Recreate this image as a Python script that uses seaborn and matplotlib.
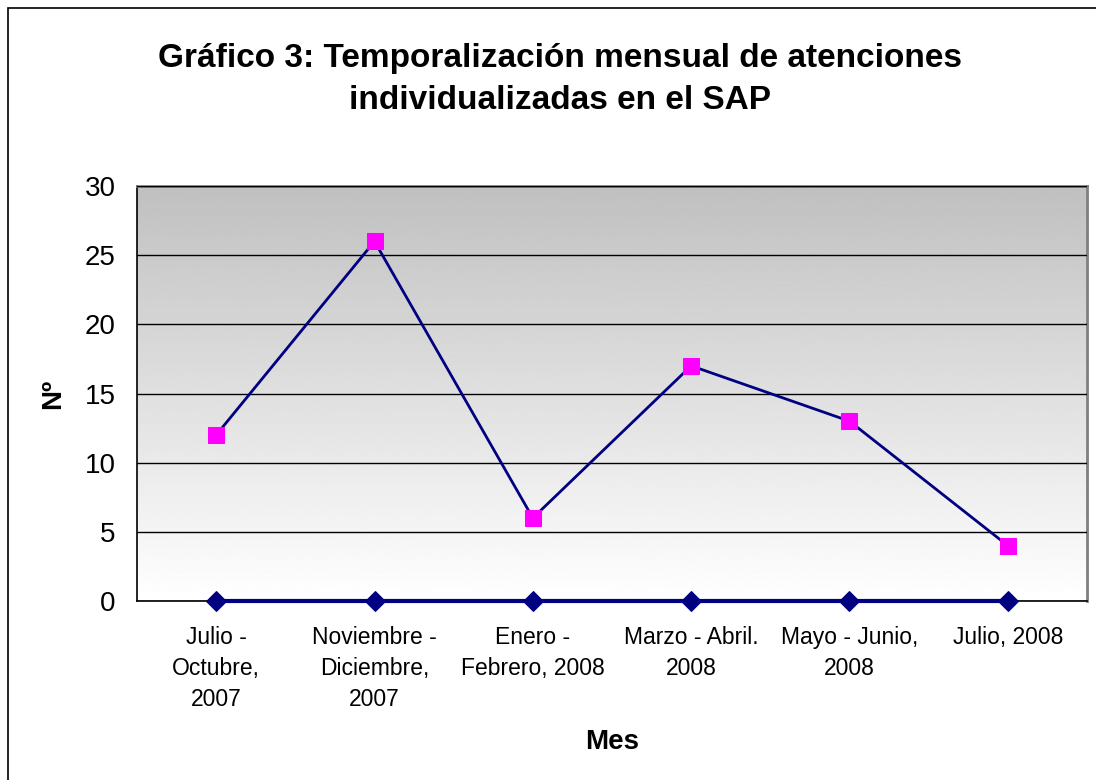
import numpy as np
import pandas as pd
import matplotlib
matplotlib.use("Agg")
import matplotlib.pyplot as plt
import seaborn as sns

# Datos del gráfico
meses = ["Julio -\nOctubre,\n2007", "Noviembre -\nDiciembre,\n2007", "Enero -\nFebrero, 2008",
         "Marzo - Abril.\n2008", "Mayo - Junio,\n2008", "Julio, 2008"]
atenciones = [12, 26, 6, 17, 13, 4]
serie_cero = [0, 0, 0, 0, 0, 0]
y_ticks = [0, 5, 10, 15, 20, 25, 30]

sns.set_style("white")
plt.rcParams['font.family'] = ['Liberation Sans', 'DejaVu Sans']
plt.rcParams.update({"text.color": "black", "axes.labelcolor": "black",
                     "xtick.color": "black", "ytick.color": "black"})

df = pd.DataFrame({"pos": range(len(meses)), "mes": meses,
                   "atenciones": atenciones, "cero": serie_cero})

fig = plt.figure(figsize=(10.96, 7.8), dpi=100)
ax = fig.add_axes([137/1096, 1 - 601/780, 950/1096, 415/780])

# marco exterior del gráfico
fig.patches.append(plt.Rectangle((8/1096, -0.05), 1.2, 1 - 8/780 + 0.05, transform=fig.transFigure,
                                 fill=False, edgecolor="black", linewidth=1.2, zorder=0))

# fondo degradado (gris arriba, blanco abajo)
grad = np.linspace(192, 255, 256).reshape(-1, 1) / 255.0
ax.imshow(grad, cmap="gray", vmin=0, vmax=1, aspect="auto", extent=[0, 1, 0, 1],
          origin="upper", transform=ax.transAxes, zorder=0)

sns.lineplot(data=df, x="pos", y="cero", ax=ax, color="#000080", linewidth=3,
             marker="D", markersize=10, markerfacecolor="#000080", markeredgecolor="#000080",
             zorder=3, clip_on=False)
sns.lineplot(data=df, x="pos", y="atenciones", ax=ax, color="#000080", linewidth=2,
             marker="s", markersize=11, markerfacecolor="#ff00ff", markeredgecolor="#ff00ff",
             zorder=4, clip_on=False)

ax.set_xlim(-0.5, len(meses) - 0.5)
ax.set_ylim(0, 30)
ax.set_yticks(y_ticks)
ax.set_yticklabels([str(v) for v in y_ticks], fontsize=20)
ax.yaxis.grid(True, color="black", linewidth=1)
ax.set_axisbelow(False)
for gl in ax.get_ygridlines():
    gl.set_zorder(1)

ax.set_xticks(np.arange(-0.5, len(meses), 1.0))
ax.set_xticklabels([])
ax.set_xticks(range(len(meses)), minor=True)
ax.set_xticklabels(meses, minor=True, fontsize=16.5, linespacing=1.45, va="top")
ax.tick_params(axis="x", which="minor", length=0, pad=18)
ax.tick_params(axis="x", which="major", direction="out", length=6, color="#808080", width=1.5)
ax.tick_params(axis="y", direction="out", length=6.5, width=1, color="black", pad=9)

for s in ["left", "bottom"]:
    ax.spines[s].set_color("black")
    ax.spines[s].set_linewidth(1.2)
for s in ["top", "right"]:
    ax.spines[s].set_color("#808080")
    ax.spines[s].set_linewidth(2)

ax.set_xlabel("Mes", fontsize=20, fontweight="bold", labelpad=13)
ax.set_ylabel("Nº", fontsize=20, fontweight="bold", labelpad=13)
fig.suptitle("Gráfico 3: Temporalización mensual de atenciones\nindividualizadas en el SAP",
             x=560/1096, y=1 - 43/780, fontsize=24, fontweight="bold", linespacing=1.45)

fig.savefig("out.png", dpi=100, facecolor="white")
